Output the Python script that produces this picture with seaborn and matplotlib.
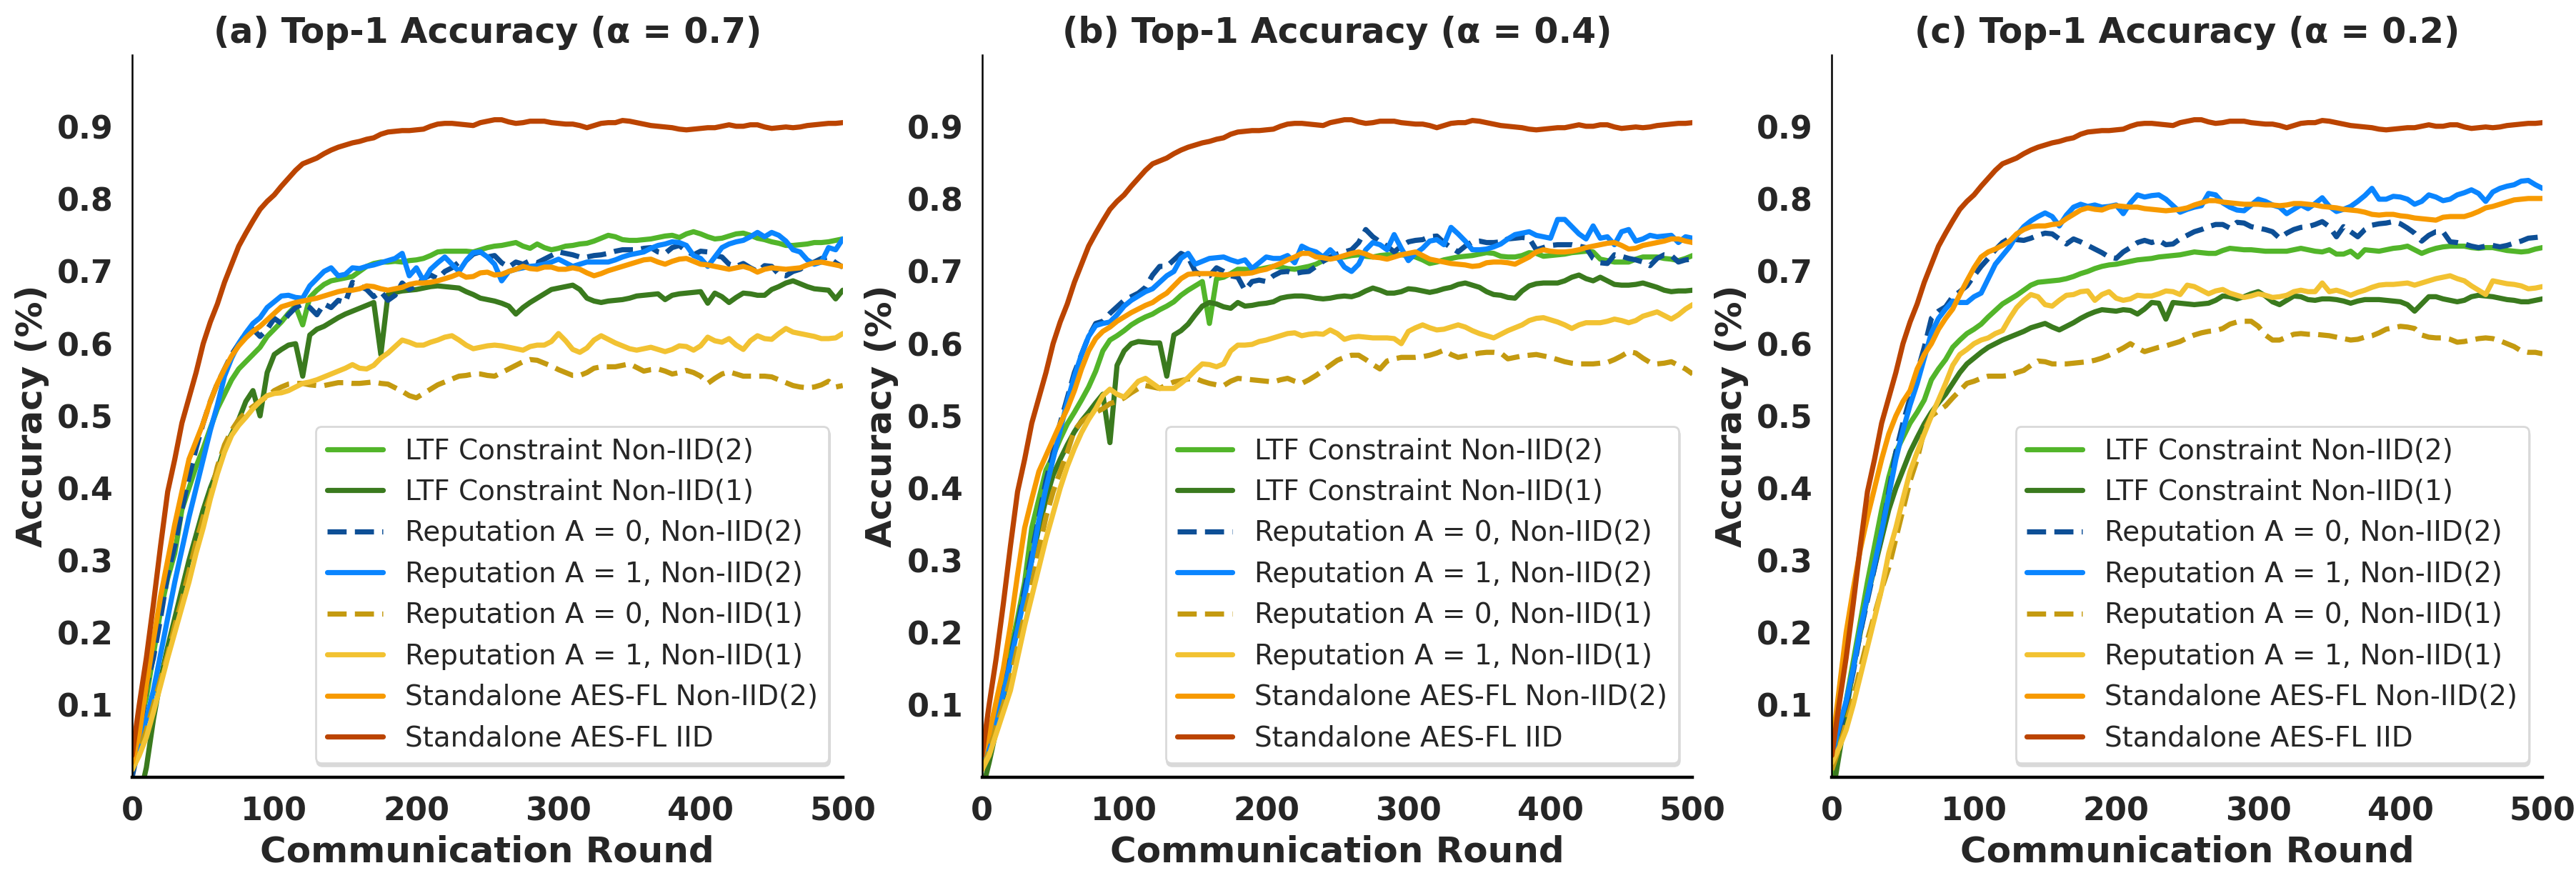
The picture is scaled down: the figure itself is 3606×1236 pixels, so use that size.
import pandas as pd
import matplotlib.pyplot as plt
import seaborn as sns

# rounds sampled every 5
rounds = list(range(0, 501, 5))

methods = ["LTF Constraint Non-IID(2)", "LTF Constraint Non-IID(1)",
           "Reputation A = 0, Non-IID(2)", "Reputation A = 1, Non-IID(2)",
           "Reputation A = 0, Non-IID(1)", "Reputation A = 1, Non-IID(1)",
           "Standalone AES-FL Non-IID(2)", "Standalone AES-FL IID"]
colors = ["#52b52a", "#3a7a1e", "#0d4f96", "#0a85ff",
          "#c49a10", "#f2c232", "#f79a00", "#bb4400"]
dashed = [False, False, True, False, True, False, False, False]

titles = ["(a) Top-1 Accuracy (α = 0.7)", "(b) Top-1 Accuracy (α = 0.4)",
          "(c) Top-1 Accuracy (α = 0.2)"]

# Standalone AES-FL IID (same curve in every panel)
iid = [.03, .10, .165, .24, .32, .395, .44, .49, .525, .56,
       .60, .63, .655, .685, .71, .735, .753, .77, .786, .797,
       .806, .818, .829, .84, .849, .853, .857, .863, .868, .872,
       .875, .878, .88, .883, .885, .89, .893, .894, .895, .895,
       .896, .897, .901, .904, .905, .905, .904, .903, .902, .906,
       .908, .91, .91, .907, .905, .906, .908, .908, .908, .906,
       .905, .904, .904, .902, .899, .902, .905, .906, .906, .909,
       .908, .906, .904, .902, .901, .90, .899, .897, .896, .897,
       .898, .899, .899, .901, .903, .901, .901, .903, .903, .90,
       .898, .899, .90, .899, .90, .902, .903, .904, .905, .905,
       .906]

# ---- panel (a) alpha = 0.7
ltf2_a = [.03, .07, .11, .17, .23, .275, .31, .37, .40, .43,
          .455, .483, .51, .53, .55, .565, .575, .585, .595, .61,
          .62, .63, .642, .652, .626, .664, .674, .682, .687, .689,
          .691, .693, .70, .707, .711, .713, .713, .714, .713, .715,
          .716, .718, .722, .727, .728, .728, .728, .728, .727, .73,
          .733, .735, .736, .738, .74, .735, .732, .738, .733, .73,
          .732, .735, .736, .738, .739, .742, .746, .75, .748, .744,
          .743, .743, .744, .745, .747, .749, .75, .747, .752, .755,
          .752, .748, .745, .746, .749, .752, .753, .75, .746, .744,
          .741, .739, .736, .736, .737, .738, .74, .74, .741, .743,
          .745]
ltf1_a = [-.06, -.03, .013, .08, .135, .18, .22, .26, .30, .335,
          .37, .40, .425, .456, .475, .495, .52, .535, .50, .56,
          .585, .592, .598, .60, .555, .612, .62, .624, .63, .636,
          .641, .645, .649, .653, .657, .585, .668, .671, .673, .674,
          .675, .677, .679, .68, .679, .678, .677, .672, .668, .663,
          .661, .659, .656, .652, .641, .65, .657, .663, .669, .675,
          .677, .679, .681, .675, .663, .659, .657, .659, .66, .661,
          .663, .666, .667, .668, .669, .661, .667, .669, .67, .671,
          .672, .656, .67, .665, .657, .664, .67, .669, .667, .667,
          .675, .679, .684, .687, .683, .679, .676, .675, .674, .662,
          .674]
rep0_2_a = [.00, .045, .125, .165, .22, .28, .32, .37, .415, .455,
            .49, .52, .545, .565, .585, .60, .615, .62, .61, .62,
            .635, .628, .64, .65, .655, .65, .64, .655, .65, .66,
            .657, .685, .68, .675, .665, .672, .66, .667, .684, .675,
            .68, .69, .695, .69, .70, .705, .713, .715, .724, .727,
            .72, .722, .712, .706, .713, .71, .715, .712, .717, .722,
            .727, .725, .723, .72, .72, .722, .723, .725, .728, .73,
            .73, .73, .732, .733, .727, .725, .733, .736, .728, .723,
            .728, .727, .722, .72, .71, .707, .711, .705, .70, .708,
            .707, .696, .694, .70, .703, .71, .713, .718, .72, .712,
            .706]
rep1_2_a = [.02, .05, .08, .12, .17, .22, .27, .315, .36, .40,
            .44, .48, .515, .555, .58, .60, .615, .628, .636, .65,
            .658, .666, .667, .664, .663, .68, .69, .70, .705, .694,
            .696, .705, .704, .707, .709, .712, .715, .718, .725, .694,
            .705, .687, .703, .712, .72, .71, .70, .715, .726, .727,
            .72, .71, .687, .70, .703, .705, .707, .708, .71, .713,
            .717, .712, .707, .71, .713, .713, .713, .713, .716, .72,
            .723, .725, .727, .732, .736, .738, .741, .74, .736, .722,
            .718, .707, .72, .733, .738, .741, .743, .748, .754, .748,
            .754, .75, .742, .73, .727, .716, .71, .713, .733, .73,
            .745]
rep0_1_a = [.01, .035, .065, .10, .135, .17, .21, .245, .285, .325,
            .36, .39, .43, .46, .48, .495, .505, .513, .52, .527,
            .535, .54, .544, .545, .545, .543, .542, .542, .544, .546,
            .546, .545, .545, .546, .547, .545, .544, .539, .534, .528,
            .525, .531, .537, .543, .547, .551, .555, .556, .558, .558,
            .556, .555, .56, .565, .57, .575, .578, .577, .573, .569,
            .564, .56, .556, .556, .56, .566, .568, .568, .568, .57,
            .572, .567, .562, .564, .565, .562, .558, .56, .563, .56,
            .555, .545, .552, .558, .561, .558, .555, .555, .555, .555,
            .554, .55, .546, .542, .54, .539, .54, .543, .548, .54,
            .542]
rep1_1_a = [.01, .03, .055, .09, .127, .165, .20, .235, .27, .31,
            .345, .385, .42, .45, .473, .487, .498, .51, .52, .528,
            .531, .532, .535, .54, .545, .547, .55, .554, .558, .562,
            .566, .571, .566, .565, .57, .58, .587, .596, .605, .602,
            .598, .598, .602, .605, .609, .611, .605, .598, .593, .595,
            .597, .598, .597, .595, .593, .591, .596, .598, .598, .603,
            .614, .604, .592, .588, .594, .605, .611, .606, .601, .597,
            .593, .591, .593, .595, .592, .589, .592, .597, .596, .591,
            .597, .609, .604, .602, .607, .598, .592, .604, .611, .607,
            .606, .614, .621, .616, .614, .612, .61, .607, .607, .608,
            .614]
solo_a = [.02, .06, .127, .19, .25, .30, .35, .395, .44, .465,
          .49, .52, .545, .565, .583, .597, .608, .617, .624, .633,
          .642, .651, .654, .657, .659, .661, .663, .666, .669, .672,
          .674, .674, .676, .68, .679, .676, .674, .676, .678, .682,
          .684, .684, .685, .687, .69, .693, .697, .692, .693, .698,
          .699, .695, .696, .70, .703, .707, .704, .703, .706, .706,
          .703, .703, .705, .703, .698, .694, .697, .701, .704, .707,
          .71, .713, .716, .717, .713, .71, .714, .717, .718, .714,
          .71, .709, .707, .705, .703, .705, .707, .704, .699, .703,
          .705, .704, .703, .704, .705, .709, .712, .713, .711, .709,
          .707]

# ---- panel (b) alpha = 0.4
ltf2_b = [.02, .045, .085, .127, .175, .22, .27, .345, .385, .425,
          .445, .468, .489, .505, .522, .54, .562, .59, .605, .611,
          .618, .626, .632, .637, .641, .647, .652, .658, .667, .674,
          .68, .686, .628, .69, .692, .697, .703, .703, .702, .703,
          .705, .707, .706, .704, .703, .705, .707, .71, .715, .718,
          .719, .72, .722, .723, .721, .72, .722, .723, .723, .723,
          .722, .72, .716, .711, .713, .716, .718, .72, .721, .722,
          .724, .726, .725, .721, .72, .72, .722, .726, .725, .721,
          .722, .723, .724, .726, .727, .728, .727, .717, .715, .713,
          .713, .713, .717, .72, .72, .72, .718, .717, .715, .718,
          .722]
ltf1_b = [-.02, .02, .065, .11, .16, .21, .255, .30, .345, .385,
          .418, .44, .46, .478, .493, .505, .518, .53, .463, .57,
          .59, .60, .603, .602, .601, .601, .555, .612, .618, .627,
          .64, .652, .657, .655, .651, .649, .657, .652, .653, .655,
          .656, .658, .663, .665, .666, .666, .665, .663, .662, .663,
          .665, .666, .665, .668, .673, .677, .674, .67, .67, .672,
          .676, .675, .673, .671, .673, .676, .678, .682, .684, .681,
          .678, .672, .668, .667, .664, .663, .673, .68, .683, .684,
          .684, .684, .687, .692, .695, .69, .687, .692, .687, .682,
          .681, .681, .682, .684, .681, .678, .674, .672, .673, .673,
          .674]
rep0_2_b = [.03, .05, .085, .12, .165, .21, .26, .31, .36, .41,
            .45, .49, .525, .56, .585, .61, .628, .631, .642, .651,
            .66, .665, .67, .678, .695, .707, .707, .716, .725, .72,
            .70, .694, .694, .705, .70, .694, .692, .674, .686, .688,
            .686, .694, .699, .70, .697, .699, .70, .707, .714, .72,
            .724, .727, .73, .74, .758, .748, .741, .735, .727, .735,
            .741, .743, .744, .748, .749, .74, .733, .727, .735, .741,
            .742, .74, .74, .741, .745, .746, .747, .746, .73, .733,
            .736, .737, .737, .737, .735, .733, .718, .712, .711, .723,
            .721, .718, .716, .713, .708, .718, .723, .722, .713, .716,
            .717]
rep1_2_b = [.02, .045, .08, .115, .16, .205, .25, .30, .355, .40,
            .44, .48, .52, .555, .585, .61, .625, .628, .63, .64,
            .652, .66, .666, .672, .676, .685, .694, .70, .718, .725,
            .71, .714, .718, .719, .72, .716, .713, .716, .704, .712,
            .72, .718, .718, .722, .712, .735, .73, .727, .72, .73,
            .72, .706, .70, .71, .73, .74, .737, .73, .751, .732,
            .715, .725, .732, .742, .744, .737, .761, .752, .742, .73,
            .73, .731, .734, .738, .745, .751, .753, .755, .75, .748,
            .746, .772, .772, .762, .752, .745, .763, .746, .748, .737,
            .755, .758, .742, .745, .75, .748, .749, .75, .74, .748,
            .746]
rep0_1_b = [.01, .035, .07, .10, .135, .18, .225, .265, .315, .36,
            .395, .423, .45, .48, .492, .50, .505, .51, .517, .52,
            .525, .532, .538, .542, .54, .538, .543, .547, .549, .551,
            .552, .548, .545, .543, .542, .548, .552, .551, .55, .549,
            .548, .547, .55, .552, .548, .545, .55, .556, .563, .57,
            .577, .581, .584, .584, .578, .571, .565, .576, .579, .581,
            .581, .581, .582, .584, .587, .591, .585, .581, .583, .585,
            .587, .588, .588, .587, .579, .581, .583, .584, .585, .583,
            .581, .578, .575, .573, .572, .572, .572, .573, .574, .578,
            .583, .589, .587, .58, .574, .572, .573, .575, .57, .565,
            .558]
rep1_1_b = [.01, .03, .06, .09, .12, .165, .21, .25, .29, .33,
            .365, .40, .43, .455, .477, .495, .51, .528, .537, .53,
            .526, .537, .548, .552, .545, .538, .538, .538, .545, .553,
            .563, .572, .571, .568, .572, .59, .598, .598, .599, .603,
            .605, .608, .611, .614, .615, .611, .613, .614, .613, .619,
            .614, .606, .609, .61, .609, .608, .608, .608, .607, .60,
            .617, .622, .626, .622, .619, .62, .623, .626, .623, .618,
            .614, .611, .608, .613, .618, .622, .626, .632, .635, .636,
            .633, .63, .626, .621, .626, .629, .629, .629, .631, .634,
            .632, .629, .632, .638, .641, .644, .639, .634, .64, .648,
            .654]
solo_b = [.03, .06, .105, .15, .21, .28, .345, .385, .423, .445,
          .467, .489, .51, .535, .565, .59, .607, .617, .623, .631,
          .637, .643, .648, .653, .657, .664, .67, .68, .69, .696,
          .697, .697, .697, .696, .695, .696, .697, .697, .698, .701,
          .703, .707, .711, .716, .72, .725, .725, .72, .719, .717,
          .719, .722, .725, .727, .724, .72, .719, .717, .72, .723,
          .725, .727, .722, .717, .715, .713, .711, .71, .709, .707,
          .708, .712, .713, .713, .712, .71, .715, .72, .727, .73,
          .728, .727, .727, .728, .73, .733, .735, .737, .739, .74,
          .736, .731, .732, .736, .738, .74, .742, .745, .745, .742,
          .74]

# ---- panel (c) alpha = 0.2
ltf2_c = [-.02, .05, .105, .16, .215, .27, .32, .37, .415, .45,
          .47, .49, .505, .522, .55, .565, .578, .595, .605, .614,
          .62, .627, .637, .646, .655, .661, .667, .674, .681, .685,
          .686, .687, .688, .69, .693, .697, .70, .704, .707, .709,
          .71, .712, .714, .716, .717, .718, .72, .721, .722, .723,
          .725, .727, .726, .725, .725, .729, .732, .731, .73, .73,
          .729, .728, .728, .728, .728, .73, .732, .73, .728, .727,
          .73, .724, .724, .728, .72, .73, .729, .728, .73, .732,
          .733, .735, .73, .725, .729, .732, .734, .735, .735, .735,
          .733, .732, .733, .733, .731, .729, .728, .727, .728, .731,
          .733]
ltf1_c = [-.03, .03, .09, .15, .20, .25, .29, .33, .37, .40,
          .425, .45, .47, .489, .505, .518, .53, .545, .56, .572,
          .58, .588, .595, .60, .605, .609, .613, .617, .622, .625,
          .628, .623, .619, .624, .629, .635, .64, .644, .647, .646,
          .645, .647, .646, .641, .648, .657, .656, .634, .657, .656,
          .655, .654, .655, .656, .66, .666, .665, .662, .665, .669,
          .672, .666, .658, .654, .66, .666, .665, .661, .66, .662,
          .662, .661, .659, .656, .659, .661, .661, .661, .66, .659,
          .658, .654, .645, .655, .665, .665, .662, .66, .658, .66,
          .665, .667, .666, .665, .663, .661, .66, .658, .658, .66,
          .662]
rep0_2_c = [.02, .06, .10, .145, .20, .245, .29, .34, .395, .45,
            .49, .525, .56, .595, .635, .645, .651, .665, .672, .68,
            .694, .707, .718, .73, .74, .746, .744, .743, .746, .75,
            .753, .752, .745, .738, .745, .741, .736, .731, .726, .72,
            .718, .727, .733, .74, .743, .74, .743, .737, .738, .745,
            .75, .755, .758, .762, .765, .765, .76, .768, .767, .762,
            .76, .758, .755, .746, .753, .758, .761, .762, .765, .769,
            .762, .748, .762, .755, .748, .758, .764, .766, .767, .769,
            .766, .76, .753, .742, .75, .755, .755, .741, .74, .738,
            .735, .733, .735, .736, .734, .736, .739, .742, .746, .747,
            .748]
rep1_2_c = [.03, .07, .105, .15, .205, .25, .295, .34, .39, .44,
            .48, .515, .545, .58, .615, .635, .648, .659, .657, .657,
            .665, .67, .69, .71, .722, .734, .75, .762, .77, .776,
            .781, .776, .763, .778, .789, .793, .79, .792, .789, .79,
            .792, .78, .795, .806, .803, .805, .806, .80, .791, .782,
            .786, .789, .791, .808, .806, .795, .789, .785, .784, .792,
            .80, .797, .792, .789, .78, .786, .792, .787, .794, .802,
            .79, .783, .786, .79, .797, .805, .815, .80, .80, .804,
            .803, .80, .793, .797, .806, .803, .798, .80, .806, .809,
            .813, .808, .797, .81, .815, .818, .82, .825, .826, .82,
            .815]
rep0_1_c = [.01, .04, .075, .11, .15, .19, .225, .26, .29, .33,
            .37, .41, .44, .48, .50, .507, .514, .525, .535, .545,
            .548, .552, .555, .555, .555, .556, .56, .563, .57, .576,
            .575, .572, .572, .572, .573, .574, .575, .577, .58, .584,
            .589, .594, .60, .594, .589, .592, .595, .597, .60, .603,
            .608, .612, .615, .617, .618, .621, .627, .63, .631, .631,
            .624, .612, .605, .605, .609, .613, .614, .613, .613, .612,
            .611, .609, .607, .605, .606, .609, .611, .615, .62, .622,
            .624, .623, .621, .612, .609, .608, .608, .606, .602, .603,
            .605, .607, .608, .607, .604, .60, .596, .59, .588, .588,
            .586]
rep1_1_c = [.02, .04, .065, .10, .14, .18, .22, .26, .31, .345,
            .385, .423, .45, .475, .50, .522, .545, .57, .585, .592,
            .60, .605, .608, .614, .618, .635, .65, .66, .668, .665,
            .654, .652, .66, .667, .668, .672, .673, .66, .668, .672,
            .663, .66, .662, .667, .666, .666, .669, .673, .672, .668,
            .681, .679, .674, .669, .673, .675, .67, .667, .664, .666,
            .669, .667, .664, .665, .667, .672, .674, .672, .672, .684,
            .672, .674, .671, .667, .671, .674, .678, .681, .682, .682,
            .683, .684, .681, .684, .687, .69, .692, .694, .69, .687,
            .68, .674, .668, .687, .685, .683, .682, .68, .676, .677,
            .679]
solo_c = [.04, .12, .20, .26, .315, .36, .40, .44, .475, .50,
          .52, .535, .565, .585, .60, .62, .635, .648, .668, .687,
          .705, .72, .727, .731, .736, .742, .752, .758, .762, .763,
          .763, .765, .766, .773, .779, .785, .788, .786, .785, .789,
          .791, .79, .789, .789, .787, .786, .785, .784, .785, .786,
          .788, .792, .795, .798, .798, .796, .795, .794, .793, .793,
          .793, .792, .792, .791, .792, .794, .794, .793, .792, .79,
          .789, .788, .786, .785, .784, .782, .779, .778, .779, .779,
          .777, .776, .774, .773, .772, .771, .775, .776, .776, .776,
          .779, .783, .788, .79, .793, .796, .799, .80, .801, .801,
          .801]

panel_series = [
    [ltf2_a, ltf1_a, rep0_2_a, rep1_2_a, rep0_1_a, rep1_1_a, solo_a, iid],
    [ltf2_b, ltf1_b, rep0_2_b, rep1_2_b, rep0_1_b, rep1_1_b, solo_b, iid],
    [ltf2_c, ltf1_c, rep0_2_c, rep1_2_c, rep0_1_c, rep1_1_c, solo_c, iid],
]

for p, series in enumerate(panel_series):
    for m, vals in zip(methods, series):
        assert len(vals) == len(rounds), (p, m, len(vals))

sns.set_theme(style="white")
plt.rcParams['font.family'] = ['DejaVu Sans']

palette = dict(zip(methods, colors))
dashes = {m: ((3.7, 1.6) if d else "") for m, d in zip(methods, dashed)}

fig, axes = plt.subplots(1, 3, figsize=(18.03, 6.18), dpi=200)
fig.subplots_adjust(left=0.0513, right=0.987, bottom=0.12, top=0.938, wspace=0.196)

for ax, title, series in zip(axes, titles, panel_series):
    rows = []
    for m, vals in zip(methods, series):
        for r, v in zip(rounds, vals):
            rows.append((r, v, m))
    df = pd.DataFrame(rows, columns=["round", "acc", "method"])
    sns.lineplot(data=df, x="round", y="acc", hue="method", style="method",
                 hue_order=methods, style_order=methods, palette=palette,
                 dashes=dashes, linewidth=2.6, estimator=None, sort=False, ax=ax)

    ax.set_xlim(0, 500)
    ax.set_ylim(0, 1.0)
    ax.set_xticks([0, 100, 200, 300, 400, 500])
    ax.set_yticks([0.1, 0.2, 0.3, 0.4, 0.5, 0.6, 0.7, 0.8, 0.9])
    ax.tick_params(labelsize=16)
    for lab in ax.get_xticklabels() + ax.get_yticklabels():
        lab.set_fontweight("bold")
    ax.set_title(title, fontsize=17.6, fontweight="bold")
    ax.set_xlabel("Communication Round", fontsize=18, fontweight="bold")
    ax.set_ylabel("Accuracy (%)", fontsize=18, fontweight="bold")
    sns.despine(ax=ax)
    ax.spines["left"].set_color("black")
    ax.spines["left"].set_linewidth(0.9)
    ax.spines["bottom"].set_color("black")
    ax.spines["bottom"].set_linewidth(1.6)

    handles, labels = ax.get_legend_handles_labels()
    ax.legend(handles, labels, loc="lower right", fontsize=14, framealpha=1,
              edgecolor="0.85", shadow={"ox": 0.5, "oy": -1.5, "color": "0.85", "alpha": 1})

fig.savefig("out.png", dpi=200)
